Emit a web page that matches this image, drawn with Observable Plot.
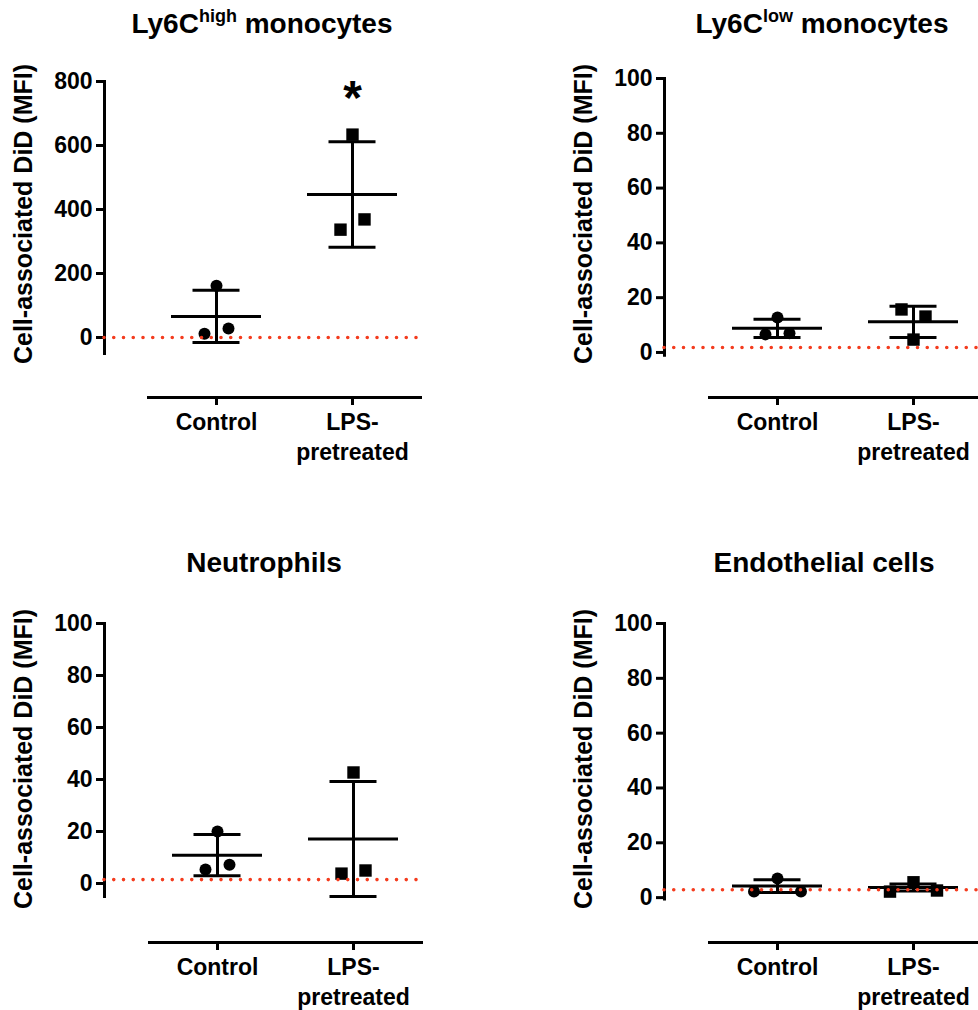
<!DOCTYPE html>
<html><head><meta charset="utf-8">
<script src="https://cdn.jsdelivr.net/npm/d3@7"></script>
<script src="https://cdn.jsdelivr.net/npm/@observablehq/plot@0.6"></script>
<style>
html,body{margin:0;padding:0;background:#fff;overflow:hidden}
#root{position:relative;width:978px;height:1010px;font-family:'Liberation Sans',Arial,Helvetica,sans-serif;font-weight:bold;color:#000}
#root svg{position:absolute;overflow:visible}
.title{position:absolute;width:400px;text-align:center;font-size:28px;line-height:28px;white-space:nowrap}
.title .sup{font-size:18px;position:relative;top:-11px}
.ylab{position:absolute;font-size:25px;line-height:25px;white-space:nowrap;transform:translate(-50%,-50%) rotate(-90deg)}
</style></head>
<body><div id="root"></div>
<script>
// ---------- data ----------
const groups = ["Control", "LPS-pretreated"];
const groupTickLabels = ["Control", "LPS-\npretreated"];
const yLabel = "Cell-associated DiD (MFI)";
const titleMain = ["Ly6C", "Ly6C", "Neutrophils", "Endothelial cells"];
const titleSup = ["high", "low", "", ""];
const titleRest = [" monocytes", " monocytes", "", ""];

// replicate values, ordered left / centre / right as drawn
const ly6cHighControl = [12, 162, 28];
const ly6cHighLPS = [337, 634, 369];
const ly6cHighMean = [66, 447];
const ly6cHighSD = [82, 165];

const ly6cLowControl = [6.6, 12.8, 7.0];
const ly6cLowLPS = [15.7, 4.7, 13.1];
const ly6cLowMean = [8.8, 11.2];
const ly6cLowSD = [3.3, 5.7];

const neutroControl = [5.4, 20.0, 7.2];
const neutroLPS = [3.8, 42.7, 5.0];
const neutroMean = [10.9, 17.1];
const neutroSD = [7.9, 22.1];

const endoControl = [2.2, 7.0, 2.2];
const endoLPS = [2.2, 5.6, 2.6];
const endoMean = [4.2, 3.7];
const endoSD = [2.3, 1.3];

const baselineMFI = [0, 1.8, 1.5, 2.9];
const significance = [["", "*"], ["", ""], ["", ""], ["", ""]];
const yTicksHigh = [0, 200, 400, 600, 800];
const yTicksLow = [0, 20, 40, 60, 80, 100];
const yDomains = [[-50, 800], [-1, 100], [-5, 100], [-0.5, 100]];

// ---------- layout ----------
const RED = "#f43c1e";
const layouts = [
  {left: 0, top: 60, width: 489, height: 420, axisX: 104, yTop: 81, yBottom: 353, xAxisY: 397, xStart: 148, xEnd: 420, spread: 12, titleX: 262, titleBase: 34, labY: 214},
  {left: 560, top: 60, width: 418, height: 420, axisX: 664, yTop: 78, yBottom: 354.7, xAxisY: 397, xStart: 709, xEnd: 981, spread: 12, titleX: 822, titleBase: 34, labY: 214},
  {left: 0, top: 600, width: 489, height: 410, axisX: 104, yTop: 623, yBottom: 896, xAxisY: 942, xStart: 149, xEnd: 421, spread: 12, titleX: 264, titleBase: 573, labY: 759},
  {left: 560, top: 600, width: 418, height: 410, axisX: 664, yTop: 623, yBottom: 898.5, xAxisY: 942, xStart: 709, xEnd: 981, spread: 23.5, titleX: 824, titleBase: 573, labY: 759}
];
const panelData = [
  {control: ly6cHighControl, lps: ly6cHighLPS, mean: ly6cHighMean, sd: ly6cHighSD, ticks: yTicksHigh},
  {control: ly6cLowControl, lps: ly6cLowLPS, mean: ly6cLowMean, sd: ly6cLowSD, ticks: yTicksLow},
  {control: neutroControl, lps: neutroLPS, mean: neutroMean, sd: neutroSD, ticks: yTicksLow},
  {control: endoControl, lps: endoLPS, mean: endoMean, sd: endoSD, ticks: yTicksLow}
];

const root = document.getElementById("root");

function panel(k) {
  const L = layouts[k], D = panelData[k];
  const mL = L.axisX - L.left, mT = L.yTop - L.top;
  const mB = L.top + L.height - L.xAxisY;
  const mR = Math.max(0, L.left + L.width - L.xEnd);
  const rows = groups.map((g, i) => ({group: g, mean: D.mean[i], lo: D.mean[i] - D.sd[i], hi: D.mean[i] + D.sd[i]}));
  const pts = [
    ...D.control.map((v, j) => ({group: groups[0], value: v, rep: j})),
    ...D.lps.map((v, j) => ({group: groups[1], value: v, rep: j}))
  ];
  const sig = groups.map((g, i) => ({group: g, label: significance[k][i]})).filter(d => d.label);
  const marks = [
    Plot.frame({anchor: "left", insetBottom: L.xAxisY - L.yBottom, stroke: "#000", strokeWidth: 3}),
    Plot.frame({anchor: "bottom", insetLeft: L.xStart - L.axisX, stroke: "#000", strokeWidth: 3}),
    Plot.axisY({ticks: D.ticks, tickSize: 8, tickPadding: 4, strokeWidth: 3, label: null}),
    Plot.axisX({tickSize: 8, tickPadding: 3, strokeWidth: 3, label: null, lineHeight: 1.3,
      tickFormat: g => groupTickLabels[groups.indexOf(g)]}),
    Plot.ruleX(rows, {x: "group", y1: "lo", y2: "hi", stroke: "#000", strokeWidth: 3}),
    Plot.tickY(rows, {x: "group", y: "mean", stroke: "#000", strokeWidth: 3}),
    Plot.tickY(rows, {x: "group", y: "hi", stroke: "#000", strokeWidth: 3, insetLeft: 21.5, insetRight: 21.5}),
    Plot.tickY(rows, {x: "group", y: "lo", stroke: "#000", strokeWidth: 3, insetLeft: 21.5, insetRight: 21.5})
  ];
  for (let j = 0; j < 3; j++) {
    marks.push(Plot.dot(pts.filter(d => d.group === groups[0] && d.rep === j),
      {x: "group", y: "value", symbol: "circle", r: 6, fill: "#000", dx: (j - 1) * L.spread}));
    marks.push(Plot.dot(pts.filter(d => d.group === groups[1] && d.rep === j),
      {x: "group", y: "value", symbol: "square", r: 7, fill: "#000", dx: (j - 1) * L.spread}));
  }
  marks.push(Plot.ruleY([baselineMFI[k]], {stroke: RED, strokeWidth: 3.6, strokeDasharray: "0 9.75", strokeLinecap: "round"}));
  if (sig.length) marks.push(Plot.text(sig, {x: "group", text: "label", frameAnchor: "top", lineAnchor: "top", fontSize: 48, dy: -2}));

  const svg = Plot.plot({
    width: L.width, height: L.height,
    marginLeft: mL, marginTop: mT, marginBottom: mB, marginRight: mR,
    style: {fontFamily: "'Liberation Sans', Arial, Helvetica, sans-serif", fontSize: "23px", fontWeight: "bold", color: "#000", background: "transparent", overflow: "visible"},
    x: {type: "band", domain: groups, range: [L.xStart - L.left, L.xEnd - L.left], paddingInner: 0.338, paddingOuter: 0.169},
    y: {domain: yDomains[k], range: [L.yBottom - L.top, L.yTop - L.top]},
    marks
  });
  svg.style.left = L.left + "px";
  svg.style.top = L.top + "px";
  root.appendChild(svg);

  const t = document.createElement("div");
  t.className = "title";
  t.style.left = (L.titleX - 200) + "px";
  t.style.top = (L.titleBase - 23.7) + "px";
  t.append(titleMain[k]);
  if (titleSup[k]) { const s = document.createElement("span"); s.className = "sup"; s.textContent = titleSup[k]; t.append(s); }
  if (titleRest[k]) t.append(titleRest[k]);
  root.appendChild(t);

  const yl = document.createElement("div");
  yl.className = "ylab";
  yl.style.left = (L.left + 23) + "px";
  yl.style.top = L.labY + "px";
  yl.textContent = yLabel;
  root.appendChild(yl);
}
for (let k = 0; k < 4; k++) panel(k);
</script>
</body></html>
